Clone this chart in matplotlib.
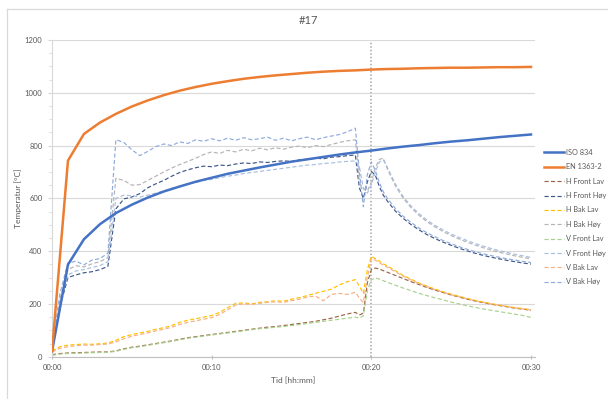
import numpy as np
import matplotlib
matplotlib.use("Agg")
import matplotlib.pyplot as plt
from matplotlib.lines import Line2D
from matplotlib.ticker import MultipleLocator

plt.rcParams['font.family'] = ['Lato', 'DejaVu Sans']

# Standard fire curves, one value per minute
std_minutes = list(range(0, 31))
iso_834 = [20, 349, 445, 502, 544, 576, 603, 626, 645, 663, 678, 693, 705, 717,
           728, 739, 748, 757, 766, 774, 781, 789, 796, 802, 809, 815, 820, 826,
           832, 837, 842]
en_1363_2 = [20, 743, 844, 887, 920, 948, 971, 991, 1008, 1022, 1034, 1044, 1053,
             1060, 1066, 1071, 1076, 1080, 1083, 1085, 1088, 1090, 1091, 1093,
             1094, 1095, 1095, 1096, 1097, 1097, 1098]

# Measurement times in minutes
meas_minutes = [0, 0.5, 1, 1.5, 2, 2.5, 3, 3.5, 4, 4.5, 5, 5.5, 6, 6.5, 7, 7.5,
                8, 8.5, 9, 9.5, 10, 10.5, 11, 11.5, 12, 12.5, 13, 13.5, 14, 14.5,
                15, 15.5, 16, 16.5, 17, 17.5, 18, 18.5, 19, 19.25, 19.5, 19.75,
                20, 20.25, 20.5, 20.75, 21, 21.5, 22, 22.5, 23, 23.5, 24, 24.5,
                25, 25.5, 26, 26.5, 27, 27.5, 28, 28.5, 29, 29.5, 30]

h_front_lav = [8, 12, 14, 15, 16, 17, 18, 18, 22, 30, 36, 40, 45, 50, 55, 60,
               66, 72, 76, 80, 84, 88, 92, 96, 100, 104, 108, 112, 114, 118,
               122, 126, 130, 134, 140, 146, 154, 162, 168, 158, 165, 280,
               330, 336, 332, 326, 320, 308, 296, 284, 273, 262, 252, 243,
               234, 226, 218, 211, 205, 199, 194, 189, 184, 180, 176]
h_front_hoy = [20, 190, 300, 310, 318, 322, 330, 342, 560, 598, 605, 618, 640, 655,
               668, 684, 698, 708, 716, 722, 720, 726, 724, 730, 734, 732, 738,
               736, 740, 742, 740, 746, 748, 752, 750, 756, 758, 762, 764, 640,
               600, 662, 702, 688, 645, 612, 590, 552, 524, 500, 480, 462, 447,
               434, 422, 411, 401, 392, 384, 377, 371, 365, 360, 355, 351]
h_bak_lav = [22, 38, 44, 46, 48, 47, 49, 52, 62, 76, 84, 90, 96, 104, 110, 118,
             130, 138, 144, 150, 156, 168, 186, 202, 204, 200, 206, 208, 212,
             210, 218, 224, 232, 240, 248, 256, 272, 284, 292, 268, 240, 330,
             380, 372, 362, 352, 344, 326, 308, 293, 279, 267, 256, 246, 237,
             229, 221, 214, 207, 201, 196, 191, 186, 182, 178]
h_bak_hoy = [25, 220, 330, 345, 340, 352, 360, 375, 676, 668, 650, 652, 668, 684,
             700, 715, 728, 740, 752, 766, 776, 770, 782, 776, 786, 780, 790,
             784, 792, 786, 794, 798, 792, 800, 796, 804, 812, 818, 822, 660,
             636, 628, 662, 715, 748, 752, 712, 648, 600, 564, 535, 511, 491,
             474, 459, 446, 434, 423, 413, 404, 396, 389, 382, 376, 371]
v_front_lav = [5, 10, 12, 13, 14, 15, 16, 17, 20, 28, 34, 38, 43, 48, 53, 58,
               64, 70, 74, 78, 82, 86, 90, 94, 98, 102, 106, 108, 112, 114,
               118, 122, 126, 130, 134, 138, 142, 146, 150, 146, 155, 250,
               292, 298, 294, 288, 282, 271, 260, 250, 240, 231, 223, 215,
               207, 200, 193, 187, 181, 176, 171, 166, 161, 156, 149]
v_front_hoy = [25, 210, 310, 325, 330, 338, 345, 360, 600, 612, 610, 605, 612, 620,
               628, 638, 646, 654, 660, 668, 672, 678, 684, 688, 694, 698, 702,
               706, 710, 714, 718, 722, 726, 728, 732, 734, 738, 740, 742, 720,
               640, 620, 650, 700, 738, 746, 718, 655, 606, 570, 541, 517, 497,
               480, 465, 452, 440, 429, 419, 410, 402, 395, 388, 382, 376]
v_bak_lav = [18, 32, 38, 42, 44, 44, 46, 48, 56, 68, 78, 84, 90, 98, 104, 112,
             122, 130, 136, 142, 148, 160, 178, 196, 200, 198, 202, 206, 208,
             206, 212, 218, 226, 230, 212, 236, 240, 236, 244, 222, 205, 300,
             372, 366, 356, 347, 339, 322, 305, 290, 277, 265, 254, 244, 235,
             227, 219, 212, 206, 200, 195, 190, 185, 181, 177]
v_bak_hoy = [30, 240, 355, 362, 348, 366, 372, 392, 822, 812, 784, 762, 778, 796,
             806, 800, 814, 808, 822, 816, 826, 818, 828, 820, 830, 822, 826,
             832, 820, 828, 818, 826, 832, 822, 830, 836, 842, 852, 866, 700,
             568, 690, 738, 705, 660, 625, 600, 562, 532, 508, 487, 469, 454,
             440, 428, 417, 407, 398, 390, 383, 377, 371, 366, 361, 357]

series_names = ["H Front Lav", "H Front Høy", "H Bak Lav", "H Bak Høy",
                "V Front Lav", "V Front Høy", "V Bak Lav", "V Bak Høy"]
series_values = [h_front_lav, h_front_hoy, h_bak_lav, h_bak_hoy,
                 v_front_lav, v_front_hoy, v_bak_lav, v_bak_hoy]
series_colors = ["#9C6645", "#3E5688", "#FFC000", "#B4B4B4",
                 "#A9D18E", "#A9BEDF", "#F4B183", "#8FAADC"]

x_ticks = [0, 10, 20, 30]
x_tick_labels = ["00:00", "00:10", "00:20", "00:30"]
y_ticks = [0, 200, 400, 600, 800, 1000, 1200]

W, H = 608, 399
fig = plt.figure(figsize=(W / 100, H / 100), dpi=100)
fig.patch.set_facecolor("white")

ax_left, ax_right, ax_top, ax_bottom = 52, 535, 40, 356.7
ax = fig.add_axes([ax_left / W, 1 - ax_bottom / H,
                   (ax_right - ax_left) / W, (ax_bottom - ax_top) / H])

text_col = "#595959"
grid_col = "#D9D9D9"

ax.plot(std_minutes, iso_834, color="#4472C4", lw=1.8, label="ISO 834", zorder=3)
ax.plot(std_minutes, en_1363_2, color="#ED7D31", lw=1.8, label="EN 1363-2", zorder=3)
for name, vals, col in zip(series_names, series_values, series_colors):
    ax.plot(meas_minutes, vals, color=col, lw=0.85, linestyle=(0, (3.5, 2)),
            label=name, zorder=2)

ax.axvline(20, color="#A6A6A6", lw=1.1, linestyle=(0, (1, 1.3)), zorder=1)

ax.set_xlim(0, 30.25)
ax.set_ylim(0, 1200)
ax.set_xticks(x_ticks)
ax.set_xticklabels(x_tick_labels)
ax.set_yticks(y_ticks)
ax.yaxis.set_minor_locator(MultipleLocator(50))
ax.grid(axis="y", which="major", color=grid_col, lw=0.8, zorder=0)

for side in ["top", "right"]:
    ax.spines[side].set_visible(False)
ax.spines["left"].set_color(grid_col)
ax.spines["bottom"].set_color("#BFBFBF")
ax.spines["left"].set_linewidth(0.8)
ax.spines["bottom"].set_linewidth(0.8)

ax.tick_params(axis="x", colors="#BFBFBF", labelcolor=text_col, labelsize=5.5,
               length=3, width=0.8, direction="inout", pad=4)
ax.tick_params(axis="y", which="major", colors=grid_col, labelcolor=text_col,
               labelsize=5.5, length=3, width=0.8, direction="out", pad=4)
ax.tick_params(axis="y", which="minor", colors=grid_col, length=2.5, width=0.6)

ax.set_xlabel("Tid [hh:mm]", fontsize=6, color=text_col, labelpad=4)
ax.set_ylabel("Temperatur [°C]", fontsize=6, color=text_col, labelpad=2)

fig.text(308 / W, 1 - 20 / H, "#17", ha="center", va="center",
         fontsize=8, color=text_col)

# Chart frame
fig.add_artist(Line2D([7 / W, 1.0], [1 - 9 / H, 1 - 9 / H], color=grid_col,
                      lw=0.9, transform=fig.transFigure))
fig.add_artist(Line2D([7 / W, 7 / W], [0, 1 - 9 / H], color=grid_col,
                      lw=0.9, transform=fig.transFigure))

leg = ax.legend(loc="upper left", bbox_to_anchor=(544 / W, 1 - 149 / H),
                bbox_transform=fig.transFigure, frameon=False, fontsize=5.3,
                handlelength=2.75, handletextpad=0.2, labelspacing=1.0,
                borderaxespad=0, borderpad=0)
for t in leg.get_texts():
    t.set_color(text_col)

fig.savefig("out.png", dpi=100, facecolor="white")
